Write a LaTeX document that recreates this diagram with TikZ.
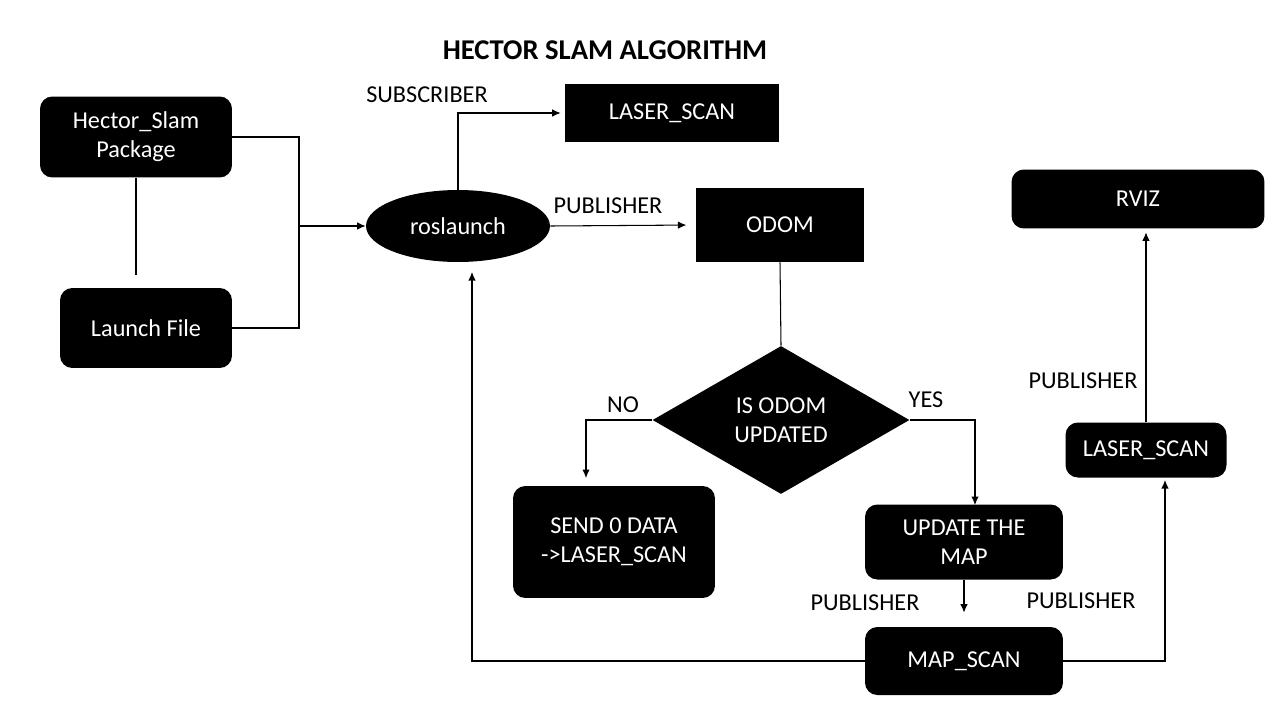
\documentclass[tikz,border=0pt]{standalone}
\usepackage{fontspec}
\setmainfont{Carlito}
\usetikzlibrary{shapes.geometric,positioning,calc}
\usetikzlibrary{arrows.meta}
\tikzset{>={Latex[width=1.5mm,length=1.7mm]}}

\begin{document}
\begin{tikzpicture}[x=0.02cm,y=-0.02cm,
					font=\fontsize{13.8}{16.5}\selectfont,
					box/.style={fill=black, text=white, align=center, inner sep=2pt},
					rbox/.style={box, rectangle, rounded corners=7pt},
					sbox/.style={box, rectangle},
					link/.style={draw, line width=0.6pt},
					tag/.style={inner sep=0pt},
				]
				\useasboundingbox (0,0) rectangle (1280,720);

				\node[font=\fontsize{16.3}{19}\selectfont\bfseries] (title) at (605,50) {HECTOR SLAM ALGORITHM};

				\node[rbox, minimum width=3.84cm, minimum height=1.62cm] (hector) at (136,137) {Hector\_Slam\\Package};
				\node[rbox, minimum width=3.44cm, minimum height=1.6cm] (launch) at (146,328) {Launch File};
				\node[box, ellipse, minimum width=3.68cm, minimum height=1.44cm] (roslaunch) at (458,226) {roslaunch};
				\node[sbox, minimum width=4.3cm, minimum height=1.18cm] (laser) at (672,113) {LASER\_SCAN};
				\node[sbox, minimum width=3.38cm, minimum height=1.48cm] (odom) at (780,225) {ODOM};
				\node[box, diamond, inner sep=0pt, minimum width=5.14cm, minimum height=2.96cm] (check) at (781,420) {IS ODOM\\UPDATED};
				\node[rbox, minimum width=4.04cm, minimum height=2.24cm] (send) at (614,542) {SEND 0 DATA\\->LASER\_SCAN};
				\node[rbox, minimum width=3.96cm, minimum height=1.5cm] (update) at (964,542) {UPDATE THE\\MAP};
				\node[rbox, minimum width=3.96cm, minimum height=1.36cm] (mapscan) at (964,661) {MAP\_SCAN};
				\node[rbox, minimum width=3.22cm, minimum height=1.1cm] (laser2) at (1146,450) {LASER\_SCAN};
				\node[rbox, minimum width=5.06cm, minimum height=1.18cm] (rviz) at (1138,199) {RVIZ};

				\node[tag] (sub) at (427,95) {SUBSCRIBER};
				\node[tag] (pub1) at (608,206) {PUBLISHER};
				\node[tag] (no) at (623,405) {NO};
				\node[tag] (yes) at (926,400) {YES};
				\node[tag] (pub2) at (865,603) {PUBLISHER};
				\node[tag] (pub3) at (1081,601) {PUBLISHER};
				\node[tag] (pub4) at (1083,381) {PUBLISHER};

				\coordinate (join) at (299,226);
				\coordinate (hend) at (136,275);
				\coordinate (noend) at (586,478);
				\coordinate (yesend) at (975,505);
				\coordinate (back) at (472,272);
				\coordinate (up) at (1165,480);

				\draw[link] (hector.east) -| (join) |- (launch.east);
				\draw[link] (hector.south) -- (hend);
				\draw[link,->] (join) -- (roslaunch.west);
				\draw[link,->,shorten >=2pt] (roslaunch.north) |- (laser.west);
				\draw[link,->,shorten >=5pt] (roslaunch.east) -- (odom.west);
				\draw[link] (odom.south) -- (check.north);
				\draw[link,->] (check.west) -| (noend);
				\draw[link,->] (check.east) -| (yesend);
				\draw[link,->,shorten >=8pt] (update.south) -- (mapscan.north);
				\draw[link,->] (mapscan.west) -| (back);
				\draw[link,->] (mapscan.east) -| (up);
				\draw[link,->,shorten >=2pt] (laser2.north) -- (laser2.north |- rviz.south);

			\end{tikzpicture}
\end{document}
